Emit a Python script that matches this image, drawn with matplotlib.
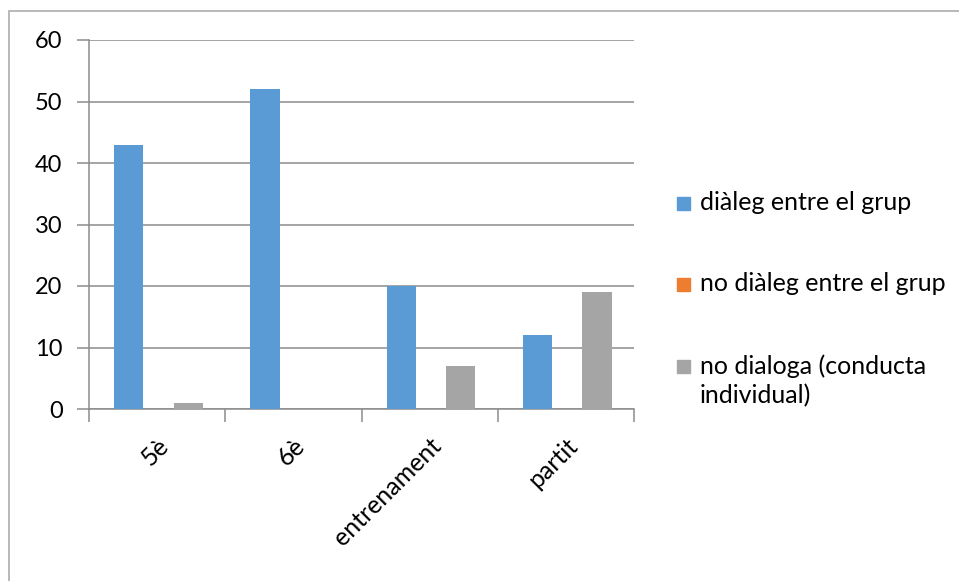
import numpy as np
import matplotlib.pyplot as plt
from matplotlib.patches import Rectangle

# valors llegits del gràfic
categories = ['5è', '6è', 'entrenament', 'partit']
dialeg = [43, 52, 20, 12]
no_dialeg = [0, 0, 0, 0]
individual = [1, 0, 7, 19]
series_names = ['diàleg entre el grup', 'no diàleg entre el grup',
                'no dialoga (conducta\nindividual)']
colors = ['#5b9bd5', '#ed7d31', '#a5a5a5']

plt.rcParams['font.family'] = ['Lato', 'DejaVu Sans']

W, H = 959, 581
fig = plt.figure(figsize=(W / 100, H / 100), dpi=100)
ax = fig.add_axes([89 / W, 1 - 409 / H, (634 - 89) / W, (409 - 40) / H])

# cadre extern
fig.patches.append(Rectangle((9 / W, -0.05), 1.2, 0.05 + (H - 11) / H,
                             transform=fig.transFigure, fill=False,
                             edgecolor='#b3b3b3', linewidth=1.3))

x = np.arange(len(categories))
w = 0.215
step = 0.218
for i, (vals, c) in enumerate(zip([dialeg, no_dialeg, individual], colors)):
    ax.bar(x + (i - 1) * step + 0.01, vals, width=w, color=c, zorder=3)

ax.set_xlim(-0.5, 3.5)
ax.set_ylim(0, 60)
ax.set_yticks(range(0, 61, 10))
ax.grid(axis='y', color='#8c8c8c', linewidth=1.1, zorder=0)

# marques de categoria entre grups
ax.set_xticks(np.arange(-0.5, 4, 1))
ax.set_xticklabels([])
ax.set_xticks(x, minor=True)
ax.set_xticklabels(categories, minor=True, rotation=45, ha='right',
                   rotation_mode='anchor', fontsize=18)
ax.tick_params(axis='x', which='minor', length=0, pad=18)
ax.tick_params(axis='x', which='major', length=9, color='#8c8c8c', width=1.1)
ax.tick_params(axis='y', length=9, color='#8c8c8c', width=1.1, labelsize=17,
               pad=10)

for s in ['top', 'right']:
    ax.spines[s].set_visible(False)
for s in ['left', 'bottom']:
    ax.spines[s].set_color('#8c8c8c')
    ax.spines[s].set_linewidth(1.1)

# llegenda feta a mà (el quadrat alineat amb la primera línia)
legend_y = [203, 284, 366]
for name, c, yy in zip(series_names, colors, legend_y):
    fig.patches.append(Rectangle((677 / W, 1 - (yy + 6.5) / H), 13 / W, 13 / H,
                                 transform=fig.transFigure, color=c))
    fig.text(700 / W, 1 - (yy - 12) / H, name, fontsize=18, va='top',
             ha='left', linespacing=1.35)

fig.savefig('out.png', dpi=100)
